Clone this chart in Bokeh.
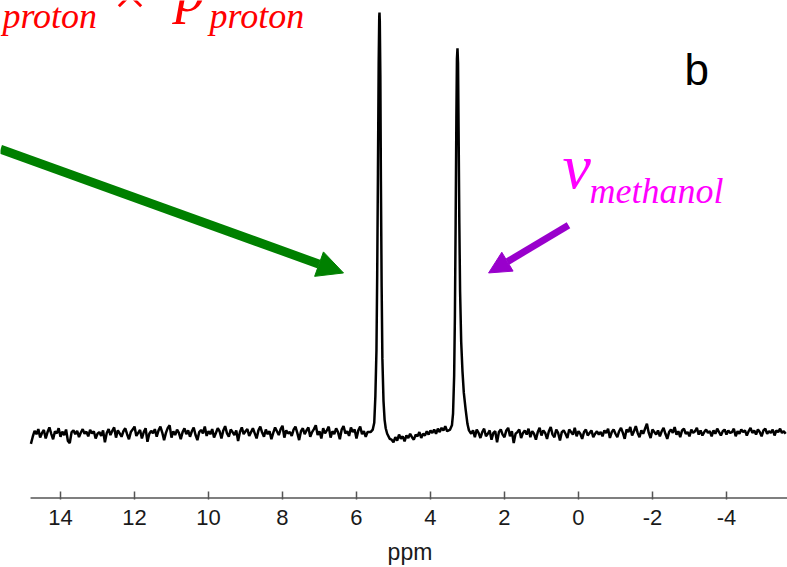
import numpy as np
from bokeh.plotting import figure
from bokeh.models import Range1d, Arrow, NormalHead, Label, FixedTicker, ColumnDataSource
from bokeh.embed import file_html
from bokeh.resources import INLINE

# ---- data (ppm, intensity; tallest peak = 100) ----
base_left_start, base_left_end = 14.8, 5.7
base_left = [-2.2, -0.5, 0.9, 0.1, 1.3, -0.7, 0.4, 1.1, -0.9, 0.6,
             1.7, 0.2, -1.1, 0.8, 0.3, 1.5, -0.5, 0.7, -0.1, 1.2,
             -1.5, -2.0, 0.6, 1.0, 0.1, 0.9, -0.6, 0.5, 1.3, 0.2,
             0.7, -0.4, 1.1, 0.3, 0.8, -0.9, 0.2, 0.6, -0.3, 1.0,
             -1.8, 0.4, 1.3, -0.1, 0.9, 1.7, -0.7, 1.0, 0.3, -0.5,
             0.8, 1.5, 0.1, -1.1, 0.6, 1.2, 1.9, -0.3, 0.4, 1.1,
             -0.9, 0.6, 1.5, -1.7, 0.2, 0.9, 0.3, 1.3, -0.5, 1.0,
             1.9, 0.5, -1.3, 0.4, 1.6, 2.2, -0.7, 0.8, -0.1, 1.2,
             0.4, -1.1, 0.6, 1.5, 0.1, 1.0, -0.5, 0.8, 1.7, -0.1,
             -1.3, 0.6, 1.1, 0.3, 1.9, -0.3, 0.8, 0.1, 1.3, -0.7,
             0.4, 1.5, 0.8, -0.9, 1.0, 2.0, 0.3, -0.5, 1.2, 0.6,
             -0.1, 1.0, -1.5, 0.6, 1.7, 0.1, 0.8, 1.3, -0.3, 0.6,
             1.5, 0.3, -0.9, 1.0, 1.9, 0.5, -0.5, 1.2, 0.1, 0.8,
             -1.1, 0.4, 1.7, 0.8, -0.1, 1.3, 2.1, -0.7, 1.0, 0.3,
             0.6, -0.3, 1.2, 1.9, 0.4, -1.3, 0.8, 1.5, 0.1, 1.0,
             1.7, -0.5, 0.6, 1.3, 2.2, -0.1, 0.8, -0.9, 1.5, 0.3,
             1.0, 1.9, -0.7, 0.8, 0.1, 1.5, 0.6, -1.1, 1.2, 2.0,
             0.3, 0.8, -0.3, 1.7, 0.6, 1.2, -0.9, 1.0, 1.9, 0.1,
             0.8, -0.5, 0.6]

peak1_ppm = [5.62, 5.56, 5.52, 5.49, 5.46, 5.44, 5.42, 5.40, 5.385, 5.378,
             5.37, 5.355, 5.34, 5.32, 5.30, 5.27, 5.24, 5.21, 5.17, 5.10]
peak1_int = [0.6, 1.2, 2.8, 9, 20, 38, 62, 88, 99, 100,
             98, 85, 60, 35, 18, 8, 3.5, 1.5, 0.2, -1.0]

base_mid_start, base_mid_end = 5.05, 3.6
base_mid = [-1.2, -1.8, -0.6, -1.4, 0.0, -1.0, -0.4, -1.6, -0.2, -0.8,
            0.2, -0.6, -1.2, 0.0, -0.4, 0.6, -0.8, 0.2, -0.2, 0.8,
            0.0, 1.0, 0.4, 1.2, 0.2, 1.4, 0.6, 1.6, 1.0, 2.0]

peak2_ppm = [3.55, 3.47, 3.42, 3.39, 3.36, 3.34, 3.32, 3.30, 3.285, 3.27,
             3.255, 3.24, 3.22, 3.20, 3.17, 3.135, 3.10, 3.05, 3.00, 2.96, 2.90]
peak2_int = [0.8, 1.2, 2.2, 5, 14, 28, 50, 75, 89, 91.5,
             88, 72, 50, 34, 22, 15, 10, 6, 2.5, 1.0, 0.2]

base_right_start, base_right_end = 2.85, -5.6
base_right = [1.0, -0.6, 1.2, 0.4, -0.8, 0.6, 1.4, -0.4, 0.2, 1.0,
              -1.2, 0.4, 0.8, -1.8, 0.6, 1.2, 0.0, -0.6, 1.0, 1.6,
              -0.4, 0.8, -2.0, 0.2, 0.6, 1.2, -0.8, 0.4, 1.0, 0.0,
              1.4, -0.6, 0.8, 0.2, -1.2, 0.6, 1.6, -0.2, 1.0, 0.4,
              -1.0, 0.8, 1.8, 0.0, -0.6, 1.2, 0.4, -1.4, 0.6, 1.0,
              0.2, -0.8, 1.2, 0.6, 0.0, 1.6, -0.4, 0.8, 0.2, -1.0,
              0.6, 1.2, -0.2, 0.4, 1.0, -0.6, 0.2, 0.8, 0.0, 0.6,
              -0.4, 1.0, 0.4, 1.4, -0.8, 0.6, 1.2, 0.2, -0.6, 0.8,
              1.6, 0.4, -1.0, 1.2, 0.6, 1.8, -0.2, 0.8, 2.0, 0.4,
              -0.6, 1.0, 0.2, 1.4, 2.6, 0.4, -0.8, 1.2, 0.6, 0.0,
              1.0, -0.4, 0.8, 1.6, 0.2, -1.0, 0.6, 1.2, 0.4, 1.8,
              0.0, 0.8, -0.6, 1.0, 1.4, 0.2, 0.6, -0.4, 1.2, 0.4,
              0.8, 1.6, 0.0, 1.0, -0.2, 0.6, 1.2, 0.4, 0.8, -0.4,
              1.0, 0.2, 1.4, 0.6, -0.2, 0.8, 1.2, 0.0, 1.0, 0.4,
              0.6, 1.4, -0.4, 0.8, 0.2, 1.2, 0.6, 1.0, -0.2, 0.8,
              1.6, 0.4, 1.0, 0.0, 1.2, 0.6, -0.4, 1.0, 1.4, 0.2,
              0.8, 0.4, 1.2, -0.2, 1.0, 0.6, 1.4, 0.4, 0.8, 0.2]

tick_values = [14, 12, 10, 8, 6, 4, 2, 0, -2, -4]
axis_start, axis_end = 14.81, -5.65

# ---- assemble spectrum ----
ppm = (list(np.linspace(base_left_start, base_left_end, len(base_left))) + peak1_ppm +
       list(np.linspace(base_mid_start, base_mid_end, len(base_mid))) + peak2_ppm +
       list(np.linspace(base_right_start, base_right_end, len(base_right))))
inten = base_left + peak1_int + base_mid + peak2_int + base_right
src = ColumnDataSource(dict(ppm=ppm, inten=inten))

Y_BOTTOM, Y_TOP = -15.37, 102.84
p = figure(width=787, height=567, output_backend="svg", toolbar_location=None,
           x_range=Range1d(15.622, -5.65), y_range=Range1d(Y_BOTTOM, Y_TOP),
           y_axis_location=None,
           min_border_left=0, min_border_right=0, min_border_top=0, min_border_bottom=67)
p.background_fill_color = "white"
p.border_fill_color = "white"
p.outline_line_color = None
p.xgrid.visible = False
p.ygrid.visible = False

p.line("ppm", "inten", source=src, line_color="black", line_width=2.5)

# axis line drawn only over the axis extent (the frame is wider, for the arrow)
p.segment(x0=[axis_start], y0=[-15.01], x1=[axis_end], y1=[-15.01],
          line_color="#555555", line_width=1.6)

ax = p.xaxis[0]
ax.ticker = FixedTicker(ticks=tick_values)
ax.major_label_overrides = {t: str(t) for t in tick_values}
ax.major_tick_in = 8
ax.major_tick_out = 0
ax.minor_tick_line_color = None
ax.axis_line_color = None
ax.major_tick_line_color = "#555555"
ax.major_tick_line_width = 1.5
ax.major_label_text_font = "Liberation Sans"
ax.major_label_text_font_size = "22px"
ax.major_label_text_color = "#1a1a1a"
ax.major_label_standoff = 10
ax.axis_label = "\u00a0\u00a0\u00a0\u00a0\u00a0ppm"
ax.axis_label_text_font = "Liberation Sans"
ax.axis_label_text_font_style = "normal"
ax.axis_label_text_font_size = "23px"
ax.axis_label_text_color = "#1a1a1a"
ax.axis_label_standoff = 11

# ---- arrows ----
green = "#008000"
purple = "#9900cc"
p.add_layout(Arrow(x_start=15.622, y_start=67.61, x_end=6.351, y_end=38.30,
                   line_color=green, line_width=9,
                   end=NormalHead(size=26, fill_color=green, line_color=green)))
p.add_layout(Arrow(x_start=0.27, y_start=49.6, x_end=2.43, y_end=38.3,
                   line_color=purple, line_width=7,
                   end=NormalHead(size=22, fill_color=purple, line_color=purple)))

# ---- texts ----
red = "#ff0000"
magenta = "#ff00ff"
def lab(x, y, t, size, color, font="Liberation Serif", style="italic"):
    p.add_layout(Label(x=x, y=y, text=t, text_font=font, text_font_style=style,
                       text_font_size=size, text_color=color,
                       text_align="left", text_baseline="alphabetic"))

lab(15.57, 99.05, "proton", "36px", red)
lab(12.68, 104.2, "×", "60px", red)
lab(10.89, 105.2, "p", "60px", red)
lab(9.973, 99.05, "proton", "36px", red)
lab(0.432, 63.6, "v", "64px", magenta)
lab(-0.297, 57.68, "methanol", "36px", magenta)
lab(-2.865, 86.5, "b", "44px", "black", font="Liberation Sans", style="normal")

open("out.html", "w").write(file_html(p, INLINE))
